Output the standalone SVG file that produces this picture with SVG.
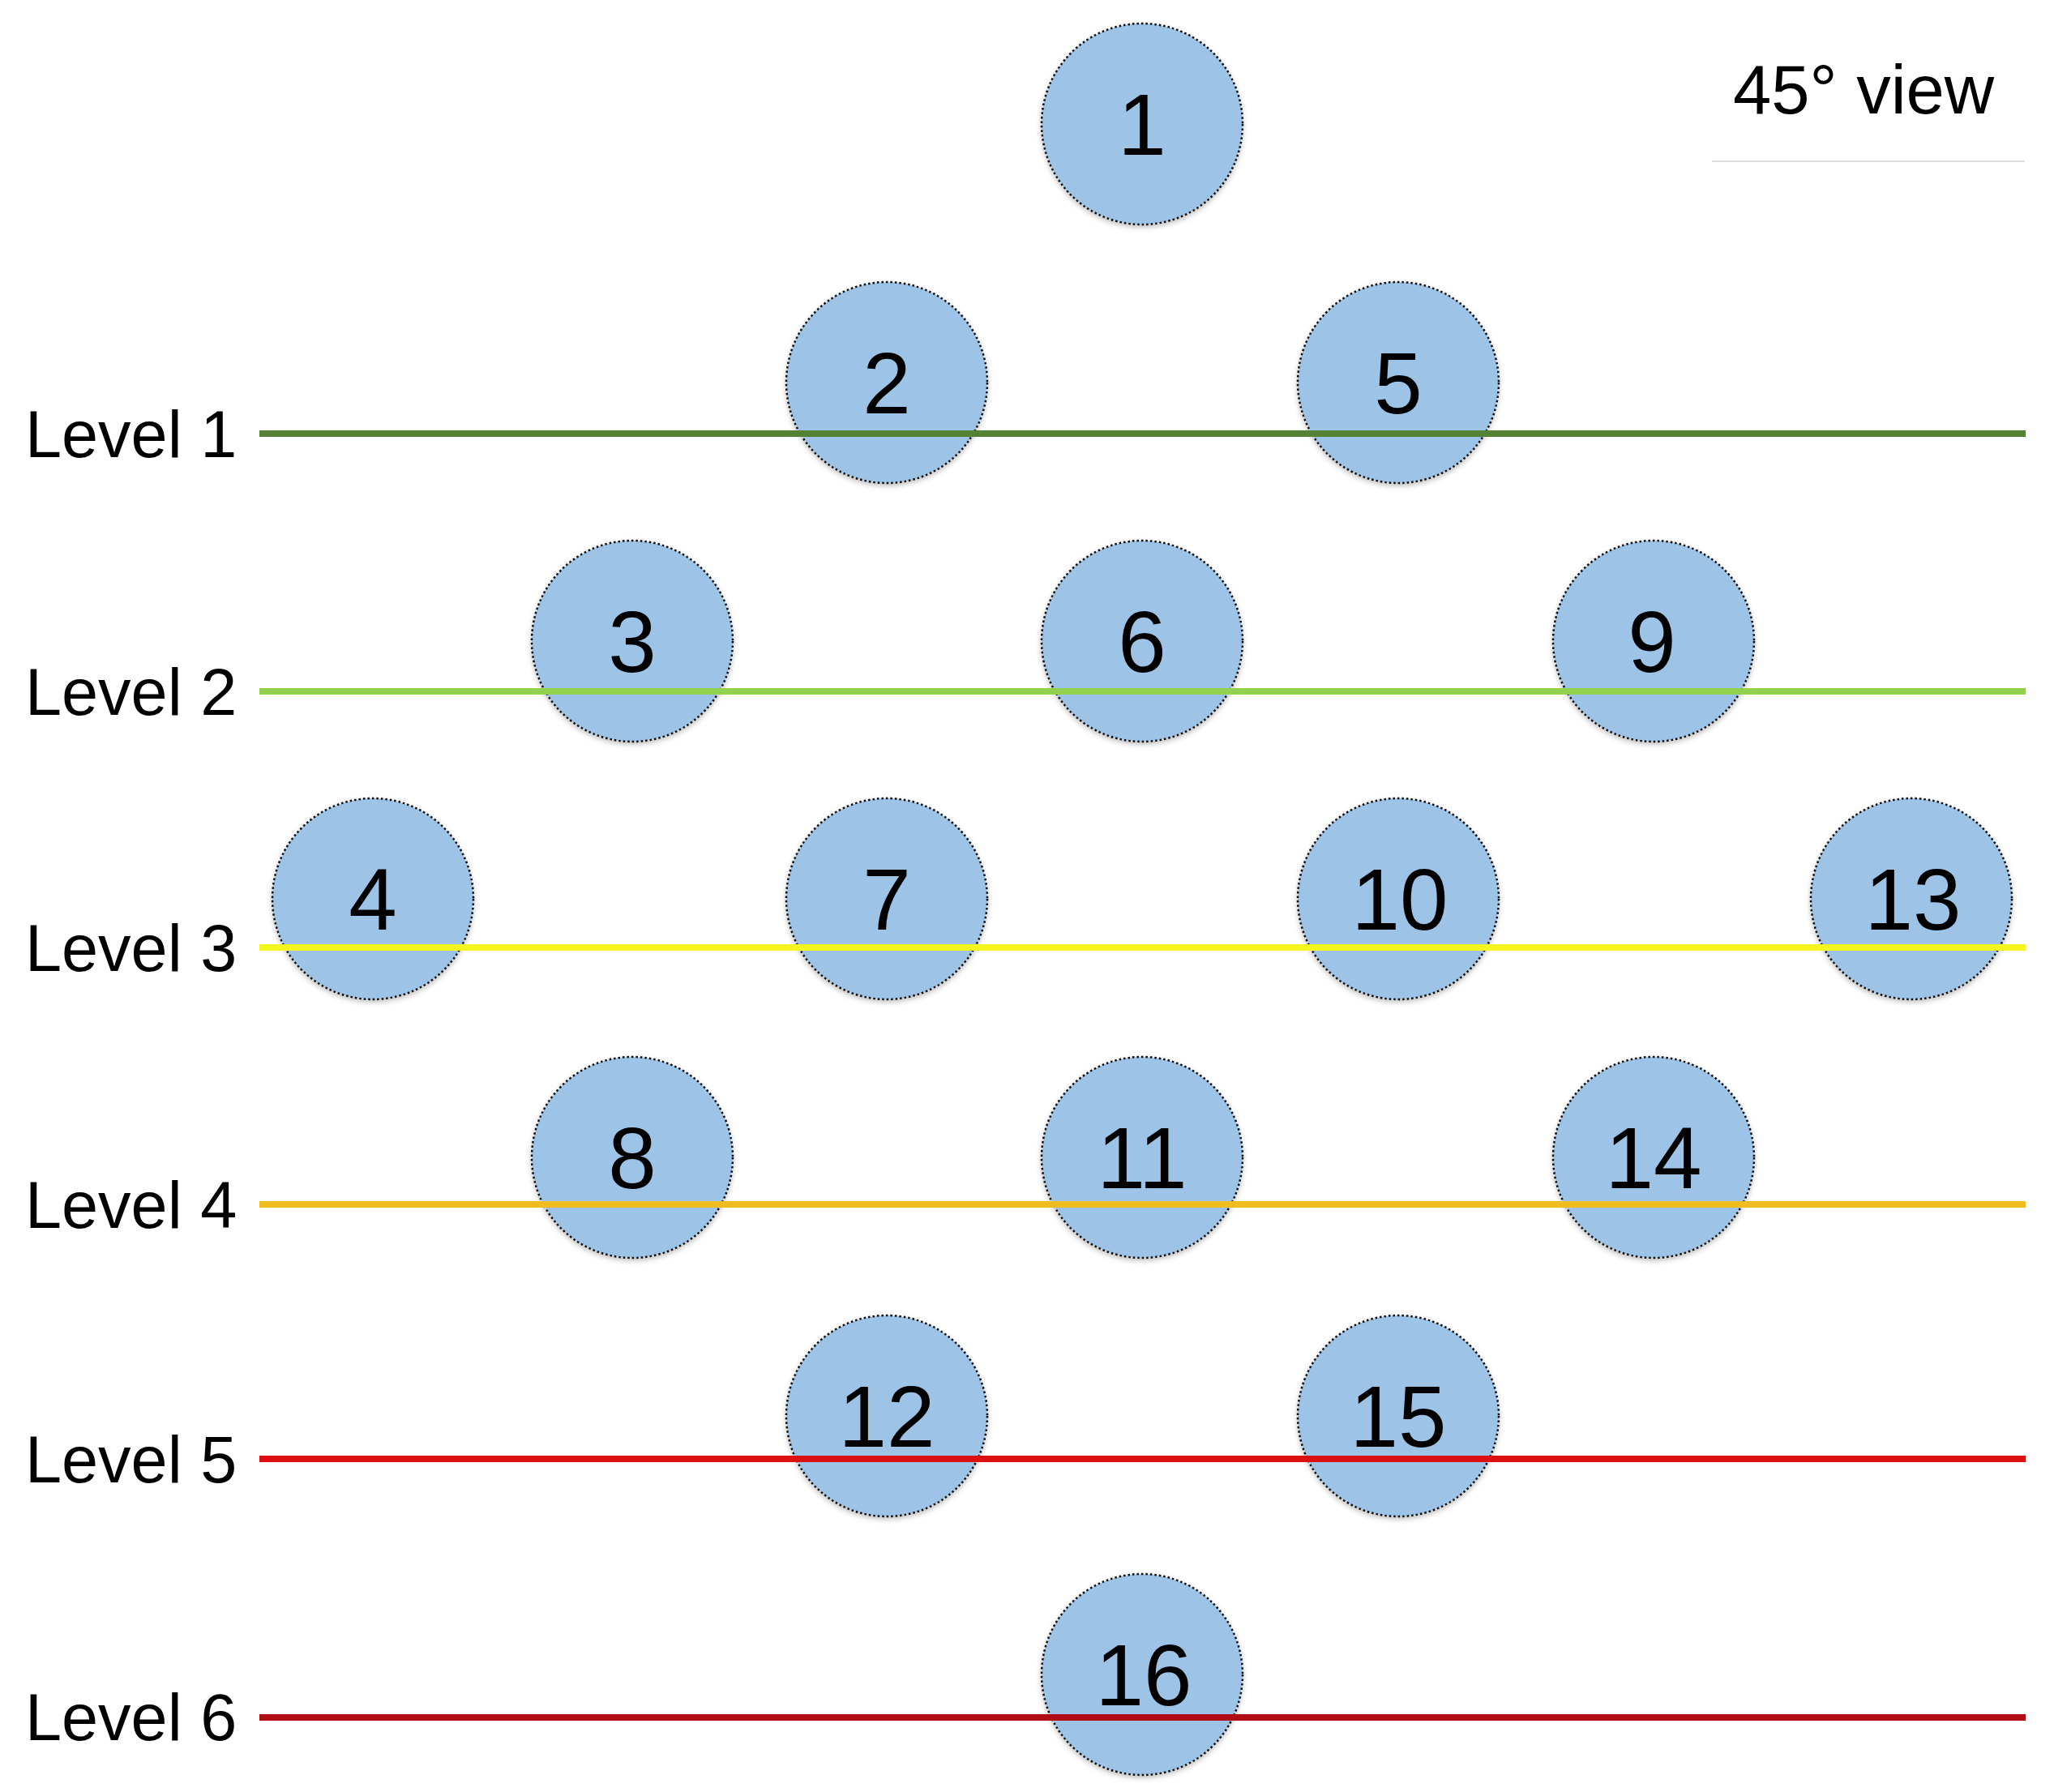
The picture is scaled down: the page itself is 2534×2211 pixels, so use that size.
<svg xmlns="http://www.w3.org/2000/svg" width="2534" height="2211" viewBox="0 0 2534 2211">
<style>
.node circle{fill:#9dc3e6;stroke:#111;stroke-width:2.5;stroke-dasharray:2.5 3;filter:url(#sh)}
.node text{font-family:"Liberation Sans",Arial,sans-serif;font-size:107px;fill:#000;text-anchor:middle}
.lbl{font-family:"Liberation Sans",Arial,sans-serif;font-size:81px;fill:#000}
.ttl{font-family:"Liberation Sans",Arial,sans-serif;font-size:85px;fill:#000}
.lv{stroke-width:8;fill:none;stroke-linecap:butt}
</style>
<defs>
<filter id="sh" x="-20%" y="-20%" width="140%" height="140%">
<feDropShadow dx="0" dy="3" stdDeviation="3" flood-color="#000" flood-opacity="0.25"/>
</filter>
</defs>
<rect width="2534" height="2211" fill="#fff"/>
<g id="n1" class="node"><circle cx="1409" cy="153" r="124"/><text x="1409" y="191">1</text></g>
<g id="n2" class="node"><circle cx="1094" cy="472" r="124"/><text x="1094" y="510">2</text></g>
<g id="n5" class="node"><circle cx="1725" cy="472" r="124"/><text x="1725" y="510">5</text></g>
<g id="n3" class="node"><circle cx="780" cy="791" r="124"/><text x="780" y="829">3</text></g>
<g id="n6" class="node"><circle cx="1409" cy="791" r="124"/><text x="1409" y="829">6</text></g>
<g id="n9" class="node"><circle cx="2040" cy="791" r="124"/><text x="2038" y="829">9</text></g>
<g id="n4" class="node"><circle cx="460" cy="1109" r="124"/><text x="460" y="1147">4</text></g>
<g id="n7" class="node"><circle cx="1094" cy="1109" r="124"/><text x="1094" y="1147">7</text></g>
<g id="n10" class="node"><circle cx="1725" cy="1109" r="124"/><text x="1727" y="1147">10</text></g>
<g id="n13" class="node"><circle cx="2358" cy="1109" r="124"/><text x="2360" y="1147">13</text></g>
<g id="n8" class="node"><circle cx="780" cy="1428" r="124"/><text x="780" y="1466">8</text></g>
<g id="n11" class="node"><circle cx="1409" cy="1428" r="124"/><text x="1409" y="1466">11</text></g>
<g id="n14" class="node"><circle cx="2040" cy="1428" r="124"/><text x="2040" y="1466">14</text></g>
<g id="n12" class="node"><circle cx="1094" cy="1747" r="124"/><text x="1094" y="1785">12</text></g>
<g id="n15" class="node"><circle cx="1725" cy="1747" r="124"/><text x="1725" y="1785">15</text></g>
<g id="n16" class="node"><circle cx="1409" cy="2066" r="124"/><text x="1411" y="2104">16</text></g>
<g id="levels">
<line class="lv" x1="320" y1="535" x2="2499" y2="535" stroke="#548235"/>
<line class="lv" x1="320" y1="853" x2="2499" y2="853" stroke="#92d050"/>
<line class="lv" x1="320" y1="1169" x2="2499" y2="1169" stroke="#f5f520"/>
<line class="lv" x1="320" y1="1486" x2="2499" y2="1486" stroke="#f0bc20"/>
<line class="lv" x1="320" y1="1800" x2="2499" y2="1800" stroke="#dd1010"/>
<line class="lv" x1="320" y1="2119" x2="2499" y2="2119" stroke="#b00c14"/>
</g>
<g id="labels">
<text class="lbl" x="31" y="564">Level 1</text>
<text class="lbl" x="31" y="882">Level 2</text>
<text class="lbl" x="31" y="1198">Level 3</text>
<text class="lbl" x="31" y="1515">Level 4</text>
<text class="lbl" x="31" y="1829">Level 5</text>
<text class="lbl" x="31" y="2147">Level 6</text>
</g>
<g id="title">
<text class="ttl" x="2138" y="140">45° view</text>
<line x1="2112" y1="199" x2="2498" y2="199" stroke="#dcdcdc" stroke-width="2"/>
</g>
</svg>
